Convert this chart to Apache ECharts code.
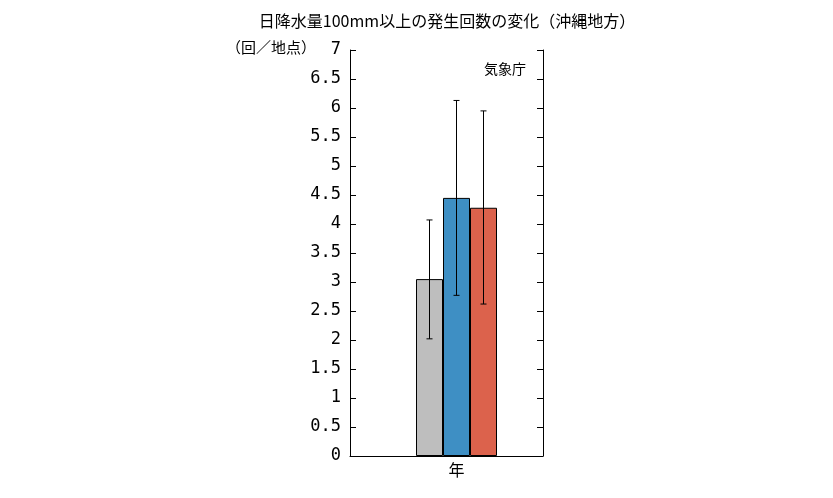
<!DOCTYPE html>
<html lang="ja">
<head>
<meta charset="UTF-8">
<title>日降水量100mm以上の発生回数の変化</title>
<script src="https://cdn.jsdelivr.net/npm/echarts@6/dist/echarts.min.js"></script>
</head>
<body style="margin:0">
<div id="main" style="width:833px;height:498px;"></div>
<script>
var categories = ['年'];
var barNames = ['現在', '2℃上昇', '4℃上昇'];
var barValues = [3.05, 4.45, 4.28];
var errLow = [2.02, 2.77, 2.62];
var errHigh = [4.07, 6.13, 5.95];
var barColors = ['#bebebe', '#3e8fc4', '#dc624c'];
var font = '"Noto Sans CJK JP", sans-serif';

var chart = echarts.init(document.getElementById('main'));
var series = [{
    // 空の系列でグループを右に寄せる
    type: 'bar', data: [0], barWidth: 20, silent: true,
    itemStyle: { color: 'transparent' }
}];
barValues.forEach(function (v, i) {
    series.push({
        name: barNames[i], type: 'bar', data: [v], barWidth: 27, barGap: 0,
        itemStyle: { color: barColors[i], borderColor: '#000', borderWidth: 1 }
    });
});
series.push({
    type: 'custom',
    data: barValues.map(function (v, i) { return [0, errLow[i], errHigh[i], i]; }),
    renderItem: function (params, api) {
        var c = api.coord([0, api.value(1)]);
        var h = api.coord([0, api.value(2)]);
        var x = c[0] - 40.5 + 10 + 27 * api.value(3) + 13.5;
        var cap = 3;
        var st = { stroke: '#000', lineWidth: 1 };
        return { type: 'group', children: [
            { type: 'line', shape: { x1: x, y1: c[1], x2: x, y2: h[1] }, style: st },
            { type: 'line', shape: { x1: x - cap, y1: c[1], x2: x + cap, y2: c[1] }, style: st },
            { type: 'line', shape: { x1: x - cap, y1: h[1], x2: x + cap, y2: h[1] }, style: st }
        ]};
    },
    z: 10
});

chart.setOption({
    animation: false,
    title: {
        text: '日降水量100mm以上の発生回数の変化（沖縄地方）',
        left: 442, top: 8, textAlign: 'center',
        textStyle: { fontFamily: font, fontSize: 16, fontWeight: 'normal', color: '#000' }
    },
    graphic: [
        { type: 'text', left: 226, top: 40, style: { text: '（回／地点）', font: '15px ' + font, fill: '#000' } },
        { type: 'text', left: 484, top: 62, style: { text: '気象庁', font: '14px ' + font, fill: '#000' } }
    ],
    grid: { left: 350, top: 50, width: 193, height: 406 },
    xAxis: {
        type: 'category', data: categories,
        axisLine: { lineStyle: { color: '#000' } },
        axisTick: { show: false },
        axisLabel: { color: '#000', fontFamily: font, fontSize: 16, margin: 6, padding: [0, 0, 0, 20] }
    },
    yAxis: [{
        type: 'value', min: 0, max: 7, interval: 0.5,
        axisLine: { show: true, lineStyle: { color: '#000' } },
        axisTick: { show: true, inside: true, length: 6, lineStyle: { color: '#000' } },
        splitLine: { show: false },
        axisLabel: {
            color: '#000', fontFamily: '"DejaVu Sans Mono", monospace', fontSize: 17, margin: 9
        }
    }, {
        type: 'value', min: 0, max: 7, interval: 0.5, position: 'right',
        axisLine: { show: true, lineStyle: { color: '#000' } },
        axisTick: { show: true, inside: true, length: 6, lineStyle: { color: '#000' } },
        splitLine: { show: false }, axisLabel: { show: false }
    }],
    series: series
});
</script>
</body>
</html>
